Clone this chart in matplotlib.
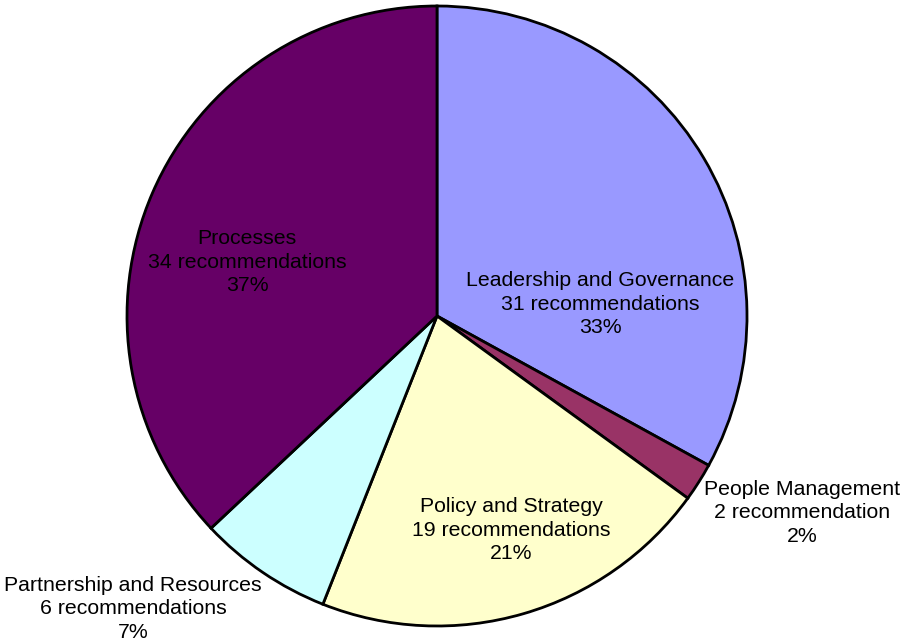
import matplotlib
matplotlib.use("Agg")
import matplotlib.pyplot as plt

categories = ["Leadership and Governance", "People Management", "Policy and Strategy",
              "Partnership and Resources", "Processes"]
counts = [31, 2, 19, 6, 34]
units = ["recommendations", "recommendation", "recommendations",
         "recommendations", "recommendations"]
percents = [33, 2, 21, 7, 37]
colors = ["#9999FF", "#993366", "#FFFFCC", "#CCFFFF", "#660066"]

# label anchor points in figure pixels (x from left, y from top)
label_pos = [(600, 304), (802, 513), (511, 530), (133, 609), (247, 262)]

W, H = 903, 644
fig = plt.figure(figsize=(W / 100, H / 100), dpi=100)
ax = fig.add_axes([0, 0, 1, 1])

cx, cy, r = 437, H - 316, 310
ax.pie(percents, colors=colors, startangle=90, counterclock=False,
       center=(cx, cy), radius=r, frame=True,
       wedgeprops=dict(edgecolor="black", linewidth=2))
ax.set_xlim(0, W)
ax.set_ylim(0, H)
ax.set_aspect("equal")
ax.axis("off")

for name, n, u, pct, (px, py) in zip(categories, counts, units, percents, label_pos):
    ax.text(px, H - py, f"{name}\n{n} {u}\n{pct}%", ha="center", va="center",
            fontsize=15.3, family="Liberation Sans", linespacing=1.32)

fig.savefig("out.png", dpi=100)
